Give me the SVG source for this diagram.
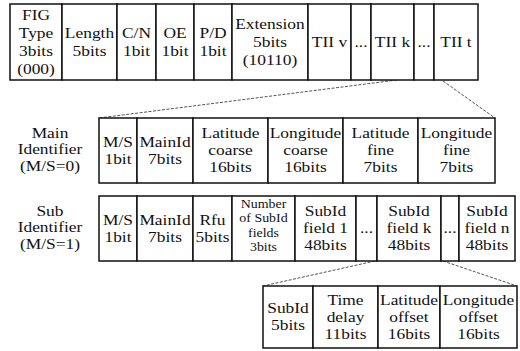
<svg xmlns="http://www.w3.org/2000/svg" width="520" height="351" viewBox="0 0 520 351">
<style>
.b{fill:#fff;stroke:#111;stroke-width:1.5}
.t{font-family:"Liberation Serif","Times New Roman",serif;font-size:15px;text-anchor:middle;fill:#111}
.s{font-family:"Liberation Serif","Times New Roman",serif;font-size:12px;text-anchor:middle;fill:#111}
.d{stroke:#555;stroke-width:1;stroke-dasharray:3 1.5;fill:none}
</style>
<rect width="520" height="351" fill="#fff"/>
<g id="connectors">
<line class="d" x1="397" y1="80" x2="99" y2="118"/>
<line class="d" x1="443" y1="81" x2="495" y2="118"/>
<line class="d" x1="375" y1="261" x2="263" y2="286"/>
<line class="d" x1="443" y1="261" x2="517" y2="286"/>
</g>
<g id="row1">
<g id="fig"><rect class="b" x="10" y="4" width="52" height="76"/><text class="t" transform="scale(1.16,1)"><tspan x="31.03" y="20">FIG</tspan><tspan x="31.03" y="38">Type</tspan><tspan x="31.03" y="56">3bits</tspan><tspan x="31.03" y="74">(000)</tspan></text></g>
<g id="length"><rect class="b" x="62" y="4" width="55" height="76"/><text class="t" transform="scale(1.16,1)"><tspan x="77.16" y="38">Length</tspan><tspan x="77.16" y="56">5bits</tspan></text></g>
<g id="cn"><rect class="b" x="117" y="4" width="39" height="76"/><text class="t" transform="scale(1.16,1)"><tspan x="117.67" y="38">C/N</tspan><tspan x="117.67" y="56">1bit</tspan></text></g>
<g id="oe"><rect class="b" x="156" y="4" width="38" height="76"/><text class="t" transform="scale(1.16,1)"><tspan x="150.86" y="38">OE</tspan><tspan x="150.86" y="56">1bit</tspan></text></g>
<g id="pd"><rect class="b" x="194" y="4" width="38" height="76"/><text class="t" transform="scale(1.16,1)"><tspan x="183.62" y="38">P/D</tspan><tspan x="183.62" y="56">1bit</tspan></text></g>
<g id="extension"><rect class="b" x="232" y="4" width="76" height="76"/><text class="t" transform="scale(1.16,1)"><tspan x="232.76" y="29">Extension</tspan><tspan x="232.76" y="47">5bits</tspan><tspan x="232.76" y="65">(10110)</tspan></text></g>
<g id="tiiv"><rect class="b" x="308" y="4" width="43" height="76"/><text class="t" x="284.05" y="47" transform="scale(1.16,1)">TII v</text></g>
<g id="dots1"><rect class="b" x="351" y="4" width="20" height="76"/><text class="t" x="311.21" y="47" transform="scale(1.16,1)">...</text></g>
<g id="tiik"><rect class="b" x="371" y="4" width="43" height="76"/><text class="t" x="338.36" y="47" transform="scale(1.16,1)">TII k</text></g>
<g id="dots2"><rect class="b" x="414" y="4" width="20" height="76"/><text class="t" x="365.52" y="47" transform="scale(1.16,1)">...</text></g>
<g id="tiit"><rect class="b" x="434" y="4" width="44" height="76"/><text class="t" x="393.10" y="47" transform="scale(1.16,1)">TII t</text></g>
</g>
<g id="main-label"><text class="t" transform="scale(1.16,1)"><tspan x="43.10" y="138">Main</tspan><tspan x="43.10" y="154">Identifier</tspan><tspan x="43.10" y="171">(M/S=0)</tspan></text></g>
<g id="row2">
<g id="m-ms"><rect class="b" x="99" y="118" width="38" height="65"/><text class="t" transform="scale(1.16,1)"><tspan x="101.72" y="147">M/S</tspan><tspan x="101.72" y="164">1bit</tspan></text></g>
<g id="m-mainid"><rect class="b" x="137" y="118" width="56" height="65"/><text class="t" transform="scale(1.16,1)"><tspan x="142.24" y="147">MainId</tspan><tspan x="142.24" y="164">7bits</tspan></text></g>
<g id="m-latc"><rect class="b" x="193" y="118" width="75" height="65"/><text class="t" transform="scale(1.16,1)"><tspan x="198.71" y="138.5">Latitude</tspan><tspan x="198.71" y="155.5">coarse</tspan><tspan x="198.71" y="172.5">16bits</tspan></text></g>
<g id="m-lonc"><rect class="b" x="268" y="118" width="75" height="65"/><text class="t" transform="scale(1.16,1)"><tspan x="263.36" y="138.5">Longitude</tspan><tspan x="263.36" y="155.5">coarse</tspan><tspan x="263.36" y="172.5">16bits</tspan></text></g>
<g id="m-latf"><rect class="b" x="343" y="118" width="75" height="65"/><text class="t" transform="scale(1.16,1)"><tspan x="328.02" y="138.5">Latitude</tspan><tspan x="328.02" y="155.5">fine</tspan><tspan x="328.02" y="172.5">7bits</tspan></text></g>
<g id="m-lonf"><rect class="b" x="418" y="118" width="77" height="65"/><text class="t" transform="scale(1.16,1)"><tspan x="393.53" y="138.5">Longitude</tspan><tspan x="393.53" y="155.5">fine</tspan><tspan x="393.53" y="172.5">7bits</tspan></text></g>
</g>
<g id="sub-label"><text class="t" transform="scale(1.16,1)"><tspan x="43.10" y="216">Sub</tspan><tspan x="43.10" y="232">Identifier</tspan><tspan x="43.10" y="249">(M/S=1)</tspan></text></g>
<g id="row3">
<g id="s-ms"><rect class="b" x="99" y="196" width="38" height="65"/><text class="t" transform="scale(1.16,1)"><tspan x="101.72" y="225">M/S</tspan><tspan x="101.72" y="242">1bit</tspan></text></g>
<g id="s-mainid"><rect class="b" x="137" y="196" width="56" height="65"/><text class="t" transform="scale(1.16,1)"><tspan x="142.24" y="225">MainId</tspan><tspan x="142.24" y="242">7bits</tspan></text></g>
<g id="s-rfu"><rect class="b" x="193" y="196" width="39" height="65"/><text class="t" transform="scale(1.16,1)"><tspan x="183.19" y="225">Rfu</tspan><tspan x="183.19" y="242">5bits</tspan></text></g>
<g id="s-num"><rect class="b" x="232" y="196" width="63" height="65"/><text class="s" transform="scale(1.16,1)"><tspan x="227.16" y="208">Number</tspan><tspan x="227.16" y="222.5">of SubId</tspan><tspan x="227.16" y="237">fields</tspan><tspan x="227.16" y="251.5">3bits</tspan></text></g>
<g id="s-f1"><rect class="b" x="295" y="196" width="61" height="65"/><text class="t" transform="scale(1.16,1)"><tspan x="280.60" y="216">SubId</tspan><tspan x="280.60" y="233">field 1</tspan><tspan x="280.60" y="250">48bits</tspan></text></g>
<g id="s-dots1"><rect class="b" x="356" y="196" width="21" height="65"/><text class="t" x="315.95" y="233" transform="scale(1.16,1)">...</text></g>
<g id="s-fk"><rect class="b" x="377" y="196" width="64" height="65"/><text class="t" transform="scale(1.16,1)"><tspan x="352.59" y="216">SubId</tspan><tspan x="352.59" y="233">field k</tspan><tspan x="352.59" y="250">48bits</tspan></text></g>
<g id="s-dots2"><rect class="b" x="441" y="196" width="18" height="65"/><text class="t" x="387.93" y="233" transform="scale(1.16,1)">...</text></g>
<g id="s-fn"><rect class="b" x="459" y="196" width="56" height="65"/><text class="t" transform="scale(1.16,1)"><tspan x="419.83" y="216">SubId</tspan><tspan x="419.83" y="233">field n</tspan><tspan x="419.83" y="250">48bits</tspan></text></g>
</g>
<g id="row4">
<g id="f-subid"><rect class="b" x="263" y="286" width="50" height="62"/><text class="t" transform="scale(1.16,1)"><tspan x="248.28" y="313">SubId</tspan><tspan x="248.28" y="330">5bits</tspan></text></g>
<g id="f-time"><rect class="b" x="313" y="286" width="65" height="62"/><text class="t" transform="scale(1.16,1)"><tspan x="297.84" y="305">Time</tspan><tspan x="297.84" y="322">delay</tspan><tspan x="297.84" y="339">11bits</tspan></text></g>
<g id="f-lato"><rect class="b" x="378" y="286" width="62" height="62"/><text class="t" transform="scale(1.16,1)"><tspan x="352.59" y="305">Latitude</tspan><tspan x="352.59" y="322">offset</tspan><tspan x="352.59" y="339">16bits</tspan></text></g>
<g id="f-lono"><rect class="b" x="440" y="286" width="77" height="62"/><text class="t" transform="scale(1.16,1)"><tspan x="412.50" y="305">Longitude</tspan><tspan x="412.50" y="322">offset</tspan><tspan x="412.50" y="339">16bits</tspan></text></g>
</g>
</svg>
